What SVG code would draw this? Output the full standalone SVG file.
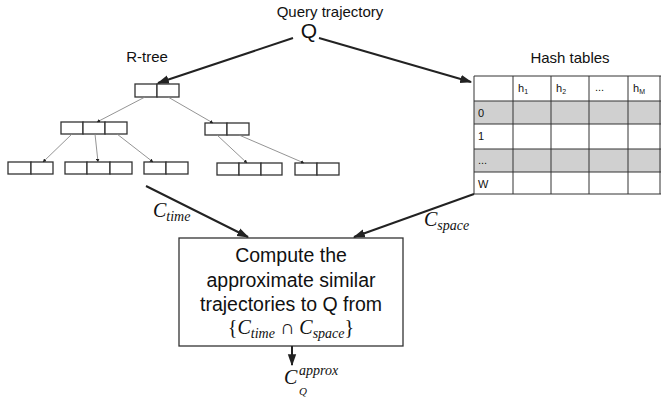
<svg xmlns="http://www.w3.org/2000/svg" width="661" height="400" viewBox="0 0 661 400">
<style>
text{font-family:"Liberation Sans","Open Sans",sans-serif;fill:#111}
.cell{fill:#fff;stroke:#333;stroke-width:1.3}
.thin{stroke:#888;stroke-width:0.9;fill:none}
.thick{stroke:#222;stroke-width:2;fill:none}
.grid{stroke:#333;stroke-width:1;fill:none}
.math{font-family:"Liberation Serif","DejaVu Serif",serif;font-style:italic}
.tab{font-size:11px}
.box{font-size:19.5px}
</style>
<defs>
<marker id="ah" viewBox="0 0 10 10" refX="9" refY="5" markerWidth="4" markerHeight="4" orient="auto"><path d="M0,0L10,5L0,10z" fill="#222"/></marker>
<marker id="as" viewBox="0 0 10 10" refX="9" refY="5" markerWidth="6" markerHeight="6" orient="auto"><path d="M0,1.5L10,5L0,8.5z" fill="#222"/></marker>
</defs>

<g id="title">
<text x="330" y="17" text-anchor="middle" font-size="15">Query trajectory</text>
<text x="309" y="38" text-anchor="middle" font-size="21">Q</text>
</g>
<text x="147" y="62" text-anchor="middle" font-size="15">R-tree</text>
<text x="570" y="63" text-anchor="middle" font-size="15">Hash tables</text>

<g id="rtree">
<g id="root"><rect class="cell" x="135" y="84" width="22" height="13"/><rect class="cell" x="157" y="84" width="22" height="13"/></g>
<g id="n2a"><rect class="cell" x="61" y="122" width="22" height="12"/><rect class="cell" x="83" y="122" width="22" height="12"/><rect class="cell" x="105" y="122" width="22" height="12"/></g>
<g id="n2b"><rect class="cell" x="205" y="123" width="22" height="12"/><rect class="cell" x="227" y="123" width="22" height="12"/></g>
<g id="leaf1"><rect class="cell" x="8" y="162" width="23" height="12"/><rect class="cell" x="31" y="162" width="22" height="12"/></g>
<g id="leaf2"><rect class="cell" x="65" y="162" width="22" height="12"/><rect class="cell" x="87" y="162" width="23" height="12"/><rect class="cell" x="110" y="162" width="22" height="12"/></g>
<g id="leaf3"><rect class="cell" x="144" y="162" width="22" height="12"/><rect class="cell" x="166" y="162" width="22" height="12"/></g>
<g id="leaf4"><rect class="cell" x="217" y="163" width="22" height="12"/><rect class="cell" x="239" y="163" width="22" height="12"/><rect class="cell" x="261" y="163" width="21" height="12"/></g>
<g id="leaf5"><rect class="cell" x="295" y="163" width="22" height="12"/><rect class="cell" x="317" y="163" width="22" height="12"/></g>
</g>

<g id="hashtable">
<rect x="474" y="101" width="187" height="23" fill="#d0d0d0"/>
<rect x="474" y="149" width="187" height="23" fill="#d0d0d0"/>
<path class="grid" d="M474,76H661M474,101H661M474,124H661M474,149H661M474,172H661M474,194H661M474,76V194M513,76V194M551,76V194M589,76V194M628,76V194M660,76V194"/>
<text class="tab" x="518" y="92">h<tspan font-size="7" dy="2">1</tspan></text>
<text class="tab" x="556" y="92">h<tspan font-size="7" dy="2">2</tspan></text>
<text class="tab" x="595" y="91">...</text>
<text class="tab" x="633" y="92">h<tspan font-size="7" dy="2">M</tspan></text>
<text class="tab" x="478" y="117">0</text>
<text class="tab" x="478" y="140">1</text>
<text class="tab" x="478" y="164">...</text>
<text class="tab" x="478" y="188">W</text>
</g>

<g id="compute">
<rect x="179" y="238" width="224" height="108" fill="#fff" stroke="#333" stroke-width="1.3"/>
<text class="box" x="291" y="262" text-anchor="middle">Compute the</text>
<text class="box" x="291" y="287" text-anchor="middle">approximate similar</text>
<text class="box" x="291" y="311" text-anchor="middle">trajectories to Q from</text>
<text x="291" y="334" text-anchor="middle" class="math" font-size="20"><tspan font-style="normal">{</tspan>C<tspan font-size="14" dy="4">time</tspan><tspan font-style="normal" dy="-4"> ∩ </tspan>C<tspan font-size="14" dy="4">space</tspan><tspan font-style="normal" dy="-4">}</tspan></text>
</g>

<g id="labels">
<text x="153" y="217" class="math" font-size="20">C<tspan font-size="14" dy="4">time</tspan></text>
<text x="424" y="226" class="math" font-size="20">C<tspan font-size="14" dy="4">space</tspan></text>
<text x="284" y="384" class="math" font-size="20">C</text>
<text x="299" y="375" class="math" font-size="14">approx</text>
<text x="299" y="395" class="math" font-size="11">Q</text>
</g>

<g id="connectors">
<line class="thin" x1="145" y1="97" x2="97" y2="122" marker-end="url(#ah)"/>
<line class="thin" x1="168" y1="97" x2="213" y2="123" marker-end="url(#ah)"/>
<line class="thin" x1="72" y1="134" x2="43" y2="162" marker-end="url(#ah)"/>
<line class="thin" x1="95" y1="134" x2="98" y2="162" marker-end="url(#ah)"/>
<line class="thin" x1="117" y1="134" x2="153" y2="162" marker-end="url(#ah)"/>
<line class="thin" x1="217" y1="135" x2="247" y2="163" marker-end="url(#ah)"/>
<line class="thin" x1="239" y1="135" x2="304" y2="163" marker-end="url(#ah)"/>
<line class="thick" x1="293" y1="38" x2="158" y2="83" marker-end="url(#as)"/>
<line class="thick" x1="319" y1="38" x2="471" y2="82" marker-end="url(#as)"/>
<line class="thick" x1="146" y1="186" x2="248" y2="237" marker-end="url(#as)"/>
<line class="thick" x1="474" y1="194" x2="354" y2="237" marker-end="url(#as)"/>
<line class="thick" x1="292" y1="346" x2="292" y2="365" marker-end="url(#as)"/>
</g>
</svg>
